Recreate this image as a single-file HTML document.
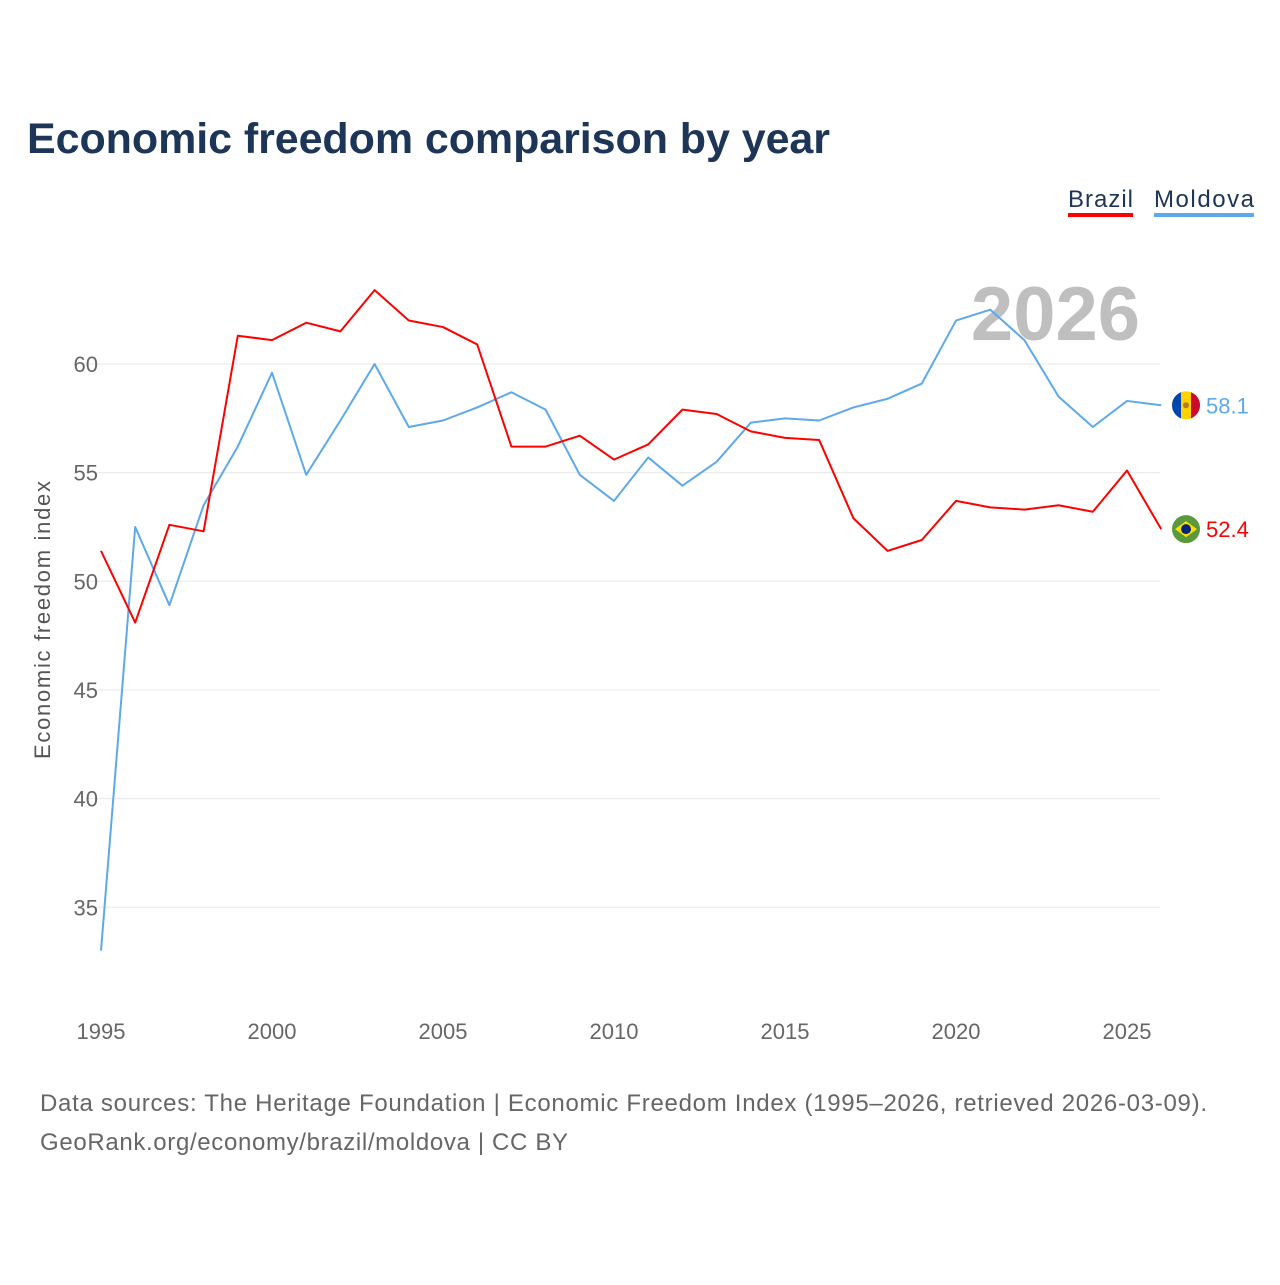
<!DOCTYPE html>
<html><head><meta charset="utf-8"><style>
body{margin:0;background:#fff;width:1280px;height:1280px;overflow:hidden;font-family:"Liberation Sans",sans-serif}
</style></head><body>
<svg width="1280" height="1280" id="svg">
<defs><clipPath id="mdclip"><circle id="mdc" cx="1186" cy="405" r="14"/></clipPath></defs>
<text x="27" y="153" font-size="43" font-weight="bold" fill="#1d3557" textLength="803">Economic freedom comparison by year</text>
<g>
<text x="1068" y="207" font-size="24" fill="#1d3557" textLength="65">Brazil</text>
<rect x="1068" y="213" width="65" height="4" fill="#ff0000"/>
<text x="1154" y="207" font-size="24" fill="#1d3557" textLength="100">Moldova</text>
<rect x="1154" y="213" width="100" height="4" fill="#5ea8ec"/>
</g>
<text x="1140" y="340" font-size="76" font-weight="bold" fill="#bfbfbf" text-anchor="end">2026</text>
<text transform="translate(50,620) rotate(-90)" font-size="22" fill="#555" text-anchor="middle" textLength="278">Economic freedom index</text>
<g id="grid"></g><g id="lines"></g>
<g>
<text x="40" y="1111" font-size="24" fill="#666" textLength="1167">Data sources: The Heritage Foundation | Economic Freedom Index (1995–2026, retrieved 2026-03-09).</text>
<text x="40" y="1150" font-size="24" fill="#666" textLength="528">GeoRank.org/economy/brazil/moldova | CC BY</text>
</g>
</svg>
<script>
const years=[1995,1996,1997,1998,1999,2000,2001,2002,2003,2004,2005,2006,2007,2008,2009,2010,2011,2012,2013,2014,2015,2016,2017,2018,2019,2020,2021,2022,2023,2024,2025,2026];
const brazil=[51.4,48.1,52.6,52.3,61.3,61.1,61.9,61.5,63.4,62.0,61.7,60.9,56.2,56.2,56.7,55.6,56.3,57.9,57.7,56.9,56.6,56.5,52.9,51.4,51.9,53.7,53.4,53.3,53.5,53.2,55.1,52.4];
const moldova=[33.0,52.5,48.9,53.5,56.2,59.6,54.9,57.4,60.0,57.1,57.4,58.0,58.7,57.9,54.9,53.7,55.7,54.4,55.5,57.3,57.5,57.4,58.0,58.4,59.1,62.0,62.5,61.1,58.5,57.1,58.3,58.1];
const yTicks=[35,40,45,50,55,60];
const xTicks=[1995,2000,2005,2010,2015,2020,2025];
const NS="http://www.w3.org/2000/svg";
const X=y=>101+(y-1995)*34.2;
const Y=v=>364+(60-v)*21.73;
function mk(t,a,p){const e=document.createElementNS(NS,t);for(const k in a)e.setAttribute(k,a[k]);p.appendChild(e);return e;}
const grid=document.getElementById('grid'),lines=document.getElementById('lines');
yTicks.forEach(v=>{
const l=mk('line',{x1:86,x2:1160,y1:Y(v),y2:Y(v),stroke:'#e8e8e8','stroke-width':1},grid);


const t=mk('text',{x:98,y:Y(v)+8,'font-size':22,fill:'#666','text-anchor':'end'},grid);t.textContent=v;


});
xTicks.forEach(y=>{
const t=mk('text',{x:X(y),y:1039,'font-size':22,fill:'#666','text-anchor':'middle'},grid);t.textContent=y;


});
function series(vals,color,name){
const p=mk('polyline',{points:vals.map((v,i)=>X(years[i])+','+Y(v)).join(' '),fill:'none',stroke:color,'stroke-width':2,'stroke-linejoin':'round'},lines);


const last=vals[vals.length-1],ly=Y(last);
if(name==='moldova'){
document.getElementById('mdc').setAttribute('cy',ly);
const g=mk('g',{'clip-path':'url(#mdclip)'},lines);


mk('rect',{x:1172,y:ly-14,width:28,height:28,fill:'#ffd200'},g);
mk('rect',{x:1172,y:ly-14,width:9,height:28,fill:'#0046ae'},g);
mk('rect',{x:1191,y:ly-14,width:9,height:28,fill:'#cc092f'},g);
mk('circle',{cx:1186,cy:ly,r:3,fill:'#b07e2a'},g);
}else{
const c=mk('circle',{cx:1186,cy:ly,r:14,fill:'#5a9a3c'},lines);


mk('polygon',{points:`1175,${ly} 1186,${ly-8} 1197,${ly} 1186,${ly+8}`,fill:'#fedf00'},lines);mk('circle',{cx:1186,cy:ly,r:5,fill:'#002776'},lines);}
const t=mk('text',{x:1206,y:ly+8,'font-size':22,fill:color},lines);t.textContent=last.toFixed(1);


}
series(moldova,'#5ea8ec','moldova');
series(brazil,'#ff0000','brazil');
</script>
</body></html>
